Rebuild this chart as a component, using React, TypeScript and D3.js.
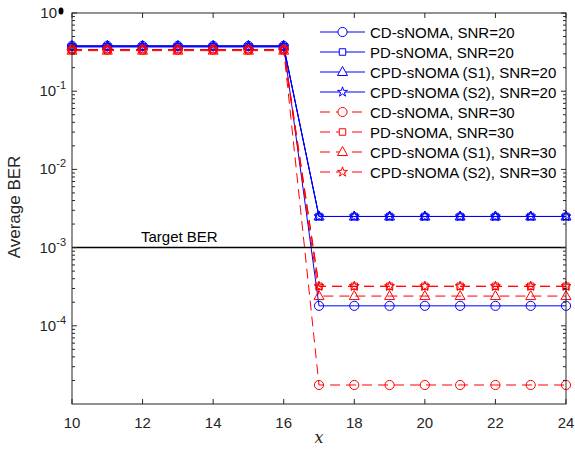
import React from 'react';
import * as d3 from 'd3';

// x positions
const xValues = [10, 11, 12, 13, 14, 15, 16, 17, 18, 19, 20, 21, 22, 23, 24];

// SNR = 20 (blue, solid)
const cdSnr20 = [0.38, 0.38, 0.38, 0.38, 0.38, 0.38, 0.38, 1.8e-4, 1.8e-4, 1.8e-4, 1.8e-4, 1.8e-4, 1.8e-4, 1.8e-4, 1.8e-4];
const pdSnr20 = [0.37, 0.37, 0.37, 0.37, 0.37, 0.37, 0.37, 2.5e-3, 2.5e-3, 2.5e-3, 2.5e-3, 2.5e-3, 2.5e-3, 2.5e-3, 2.5e-3];
const s1Snr20 = [0.38, 0.38, 0.38, 0.38, 0.38, 0.38, 0.38, 2.5e-3, 2.5e-3, 2.5e-3, 2.5e-3, 2.5e-3, 2.5e-3, 2.5e-3, 2.5e-3];
const s2Snr20 = [0.37, 0.37, 0.37, 0.37, 0.37, 0.37, 0.37, 2.5e-3, 2.5e-3, 2.5e-3, 2.5e-3, 2.5e-3, 2.5e-3, 2.5e-3, 2.5e-3];

// SNR = 30 (red, dashed)
const cdSnr30 = [0.34, 0.34, 0.34, 0.34, 0.34, 0.34, 0.34, 1.75e-5, 1.75e-5, 1.75e-5, 1.75e-5, 1.75e-5, 1.75e-5, 1.75e-5, 1.75e-5];
const pdSnr30 = [0.34, 0.34, 0.34, 0.34, 0.34, 0.34, 0.34, 3.2e-4, 3.2e-4, 3.2e-4, 3.2e-4, 3.2e-4, 3.2e-4, 3.2e-4, 3.2e-4];
const s1Snr30 = [0.33, 0.33, 0.33, 0.33, 0.33, 0.33, 0.33, 2.4e-4, 2.4e-4, 2.4e-4, 2.4e-4, 2.4e-4, 2.4e-4, 2.4e-4, 2.4e-4];
const s2Snr30 = [0.34, 0.34, 0.34, 0.34, 0.34, 0.34, 0.34, 3.2e-4, 3.2e-4, 3.2e-4, 3.2e-4, 3.2e-4, 3.2e-4, 3.2e-4, 3.2e-4];

const legendLabels = [
  'CD-sNOMA, SNR=20',
  'PD-sNOMA, SNR=20',
  'CPD-sNOMA (S1), SNR=20',
  'CPD-sNOMA (S2), SNR=20',
  'CD-sNOMA, SNR=30',
  'PD-sNOMA, SNR=30',
  'CPD-sNOMA (S1), SNR=30',
  'CPD-sNOMA (S2), SNR=30',
];

const xTicks = [10, 12, 14, 16, 18, 20, 22, 24];
const yExponents = [0, -1, -2, -3, -4];
const targetBer = 1e-3;

const BLUE = '#0000ff';
const RED = '#ff0000';
const FONT = 'Liberation Sans, Arial, Helvetica, sans-serif';

type Marker = 'circle' | 'square' | 'triangle' | 'star';

const series: { values: number[]; color: string; dashed: boolean; marker: Marker }[] = [
  { values: cdSnr20, color: BLUE, dashed: false, marker: 'circle' },
  { values: pdSnr20, color: BLUE, dashed: false, marker: 'square' },
  { values: s1Snr20, color: BLUE, dashed: false, marker: 'triangle' },
  { values: s2Snr20, color: BLUE, dashed: false, marker: 'star' },
  { values: cdSnr30, color: RED, dashed: true, marker: 'circle' },
  { values: pdSnr30, color: RED, dashed: true, marker: 'square' },
  { values: s1Snr30, color: RED, dashed: true, marker: 'triangle' },
  { values: s2Snr30, color: RED, dashed: true, marker: 'star' },
];

function markerPath(m: Marker): string {
  if (m === 'circle') return d3.symbol(d3.symbolCircle, 66)()!;
  if (m === 'square') return d3.symbol(d3.symbolSquare, 42)()!;
  if (m === 'triangle') return 'M0,-5.5L5,3.5L-5,3.5Z';
  return d3.symbol(d3.symbolStar, 30)()!;
}

export default function App() {
  const left = 72;
  const right = 566;
  const top = 13;
  const bottom = 404;

  const x = d3.scaleLinear().domain([10, 24]).range([left, right]);
  const y = d3.scaleLog().domain([1e-5, 1]).range([bottom, top]);

  const line = d3
    .line<number>()
    .x((_, i) => x(xValues[i]))
    .y((v) => y(v));

  // minor log ticks
  const minor: number[] = [];
  for (let e = -5; e < 0; e++) {
    for (let k = 2; k <= 9; k++) minor.push(k * Math.pow(10, e));
  }

  const tickLen = 5;
  const axisColor = '#262626';

  return (
    <svg width={575} height={451} style={{ position: 'absolute', left: 0, top: 0 }} fontFamily={FONT}>
      <rect x={0} y={0} width={575} height={451} fill="#fff" />

      {/* data */}
      <g>
        {series.map((s, i) => (
          <path
            key={'l' + i}
            d={line(s.values)!}
            fill="none"
            stroke={s.color}
            strokeWidth={1}
            strokeDasharray={s.dashed ? '10,6' : undefined}
          />
        ))}
        {series.map((s, i) =>
          s.values.map((v, j) => (
            <path
              key={'m' + i + '-' + j}
              d={markerPath(s.marker)}
              transform={`translate(${x(xValues[j])},${y(v)})`}
              fill="none"
              stroke={s.color}
              strokeWidth={1}
            />
          ))
        )}
      </g>

      {/* target line */}
      <line x1={left} x2={right} y1={y(targetBer)} y2={y(targetBer)} stroke="#000" strokeWidth={1.5} />
      <text x={141} y={y(targetBer) - 6} fontSize={15} fill="#000">Target BER</text>

      {/* axes box */}
      <rect x={left} y={top} width={right - left} height={bottom - top} fill="none" stroke={axisColor} strokeWidth={1} />

      {xTicks.map((t) => (
        <g key={'xt' + t}>
          <line x1={x(t)} x2={x(t)} y1={bottom} y2={bottom - tickLen} stroke={axisColor} />
          <line x1={x(t)} x2={x(t)} y1={top} y2={top + tickLen} stroke={axisColor} />
          <text x={x(t)} y={428} fontSize={15} textAnchor="middle" fill={axisColor}>{t}</text>
        </g>
      ))}

      {yExponents.map((e) => (
        <g key={'yt' + e}>
          <line x1={left} x2={left + tickLen} y1={y(Math.pow(10, e))} y2={y(Math.pow(10, e))} stroke={axisColor} />
          <line x1={right} x2={right - tickLen} y1={y(Math.pow(10, e))} y2={y(Math.pow(10, e))} stroke={axisColor} />
          {e === 0 ? (
            <g>
              <text x={57} y={y(1) + 5} fontSize={15} textAnchor="end" fill={axisColor}>10</text>
              <ellipse cx={61} cy={y(1) - 2} rx={2.5} ry={3.5} fill="#000" />
            </g>
          ) : (
            <text x={66} y={y(Math.pow(10, e)) + 5} fontSize={15} textAnchor="end" fill={axisColor}>
              10<tspan dy={-7} fontSize={11}>{'-' + Math.abs(e)}</tspan>
            </text>
          )}
        </g>
      ))}

      {minor.map((m, i) => (
        <g key={'mn' + i}>
          <line x1={left} x2={left + 3} y1={y(m)} y2={y(m)} stroke={axisColor} />
          <line x1={right} x2={right - 3} y1={y(m)} y2={y(m)} stroke={axisColor} />
        </g>
      ))}

      {/* axis labels */}
      <text x={20} y={207} fontSize={17} textAnchor="middle" fill={axisColor} transform="rotate(-90,20,207)">Average BER</text>
      <text x={x(17)} y={443} fontSize={16} textAnchor="middle" fontStyle="italic" fontFamily="DejaVu Serif, serif" fill={axisColor}>x</text>

      {/* legend */}
      {series.map((s, i) => {
        const ly = 32 + i * 20;
        return (
          <g key={'lg' + i}>
            <line x1={320} x2={365} y1={ly} y2={ly} stroke={s.color} strokeWidth={1} strokeDasharray={s.dashed ? '10,6' : undefined} />
            <path d={markerPath(s.marker)} transform={`translate(342.5,${ly})`} fill="#fff" stroke={s.color} strokeWidth={1} />
            <text x={370} y={ly + 5.5} fontSize={15} fill="#000">{legendLabels[i]}</text>
          </g>
        );
      })}
    </svg>
  );
}
